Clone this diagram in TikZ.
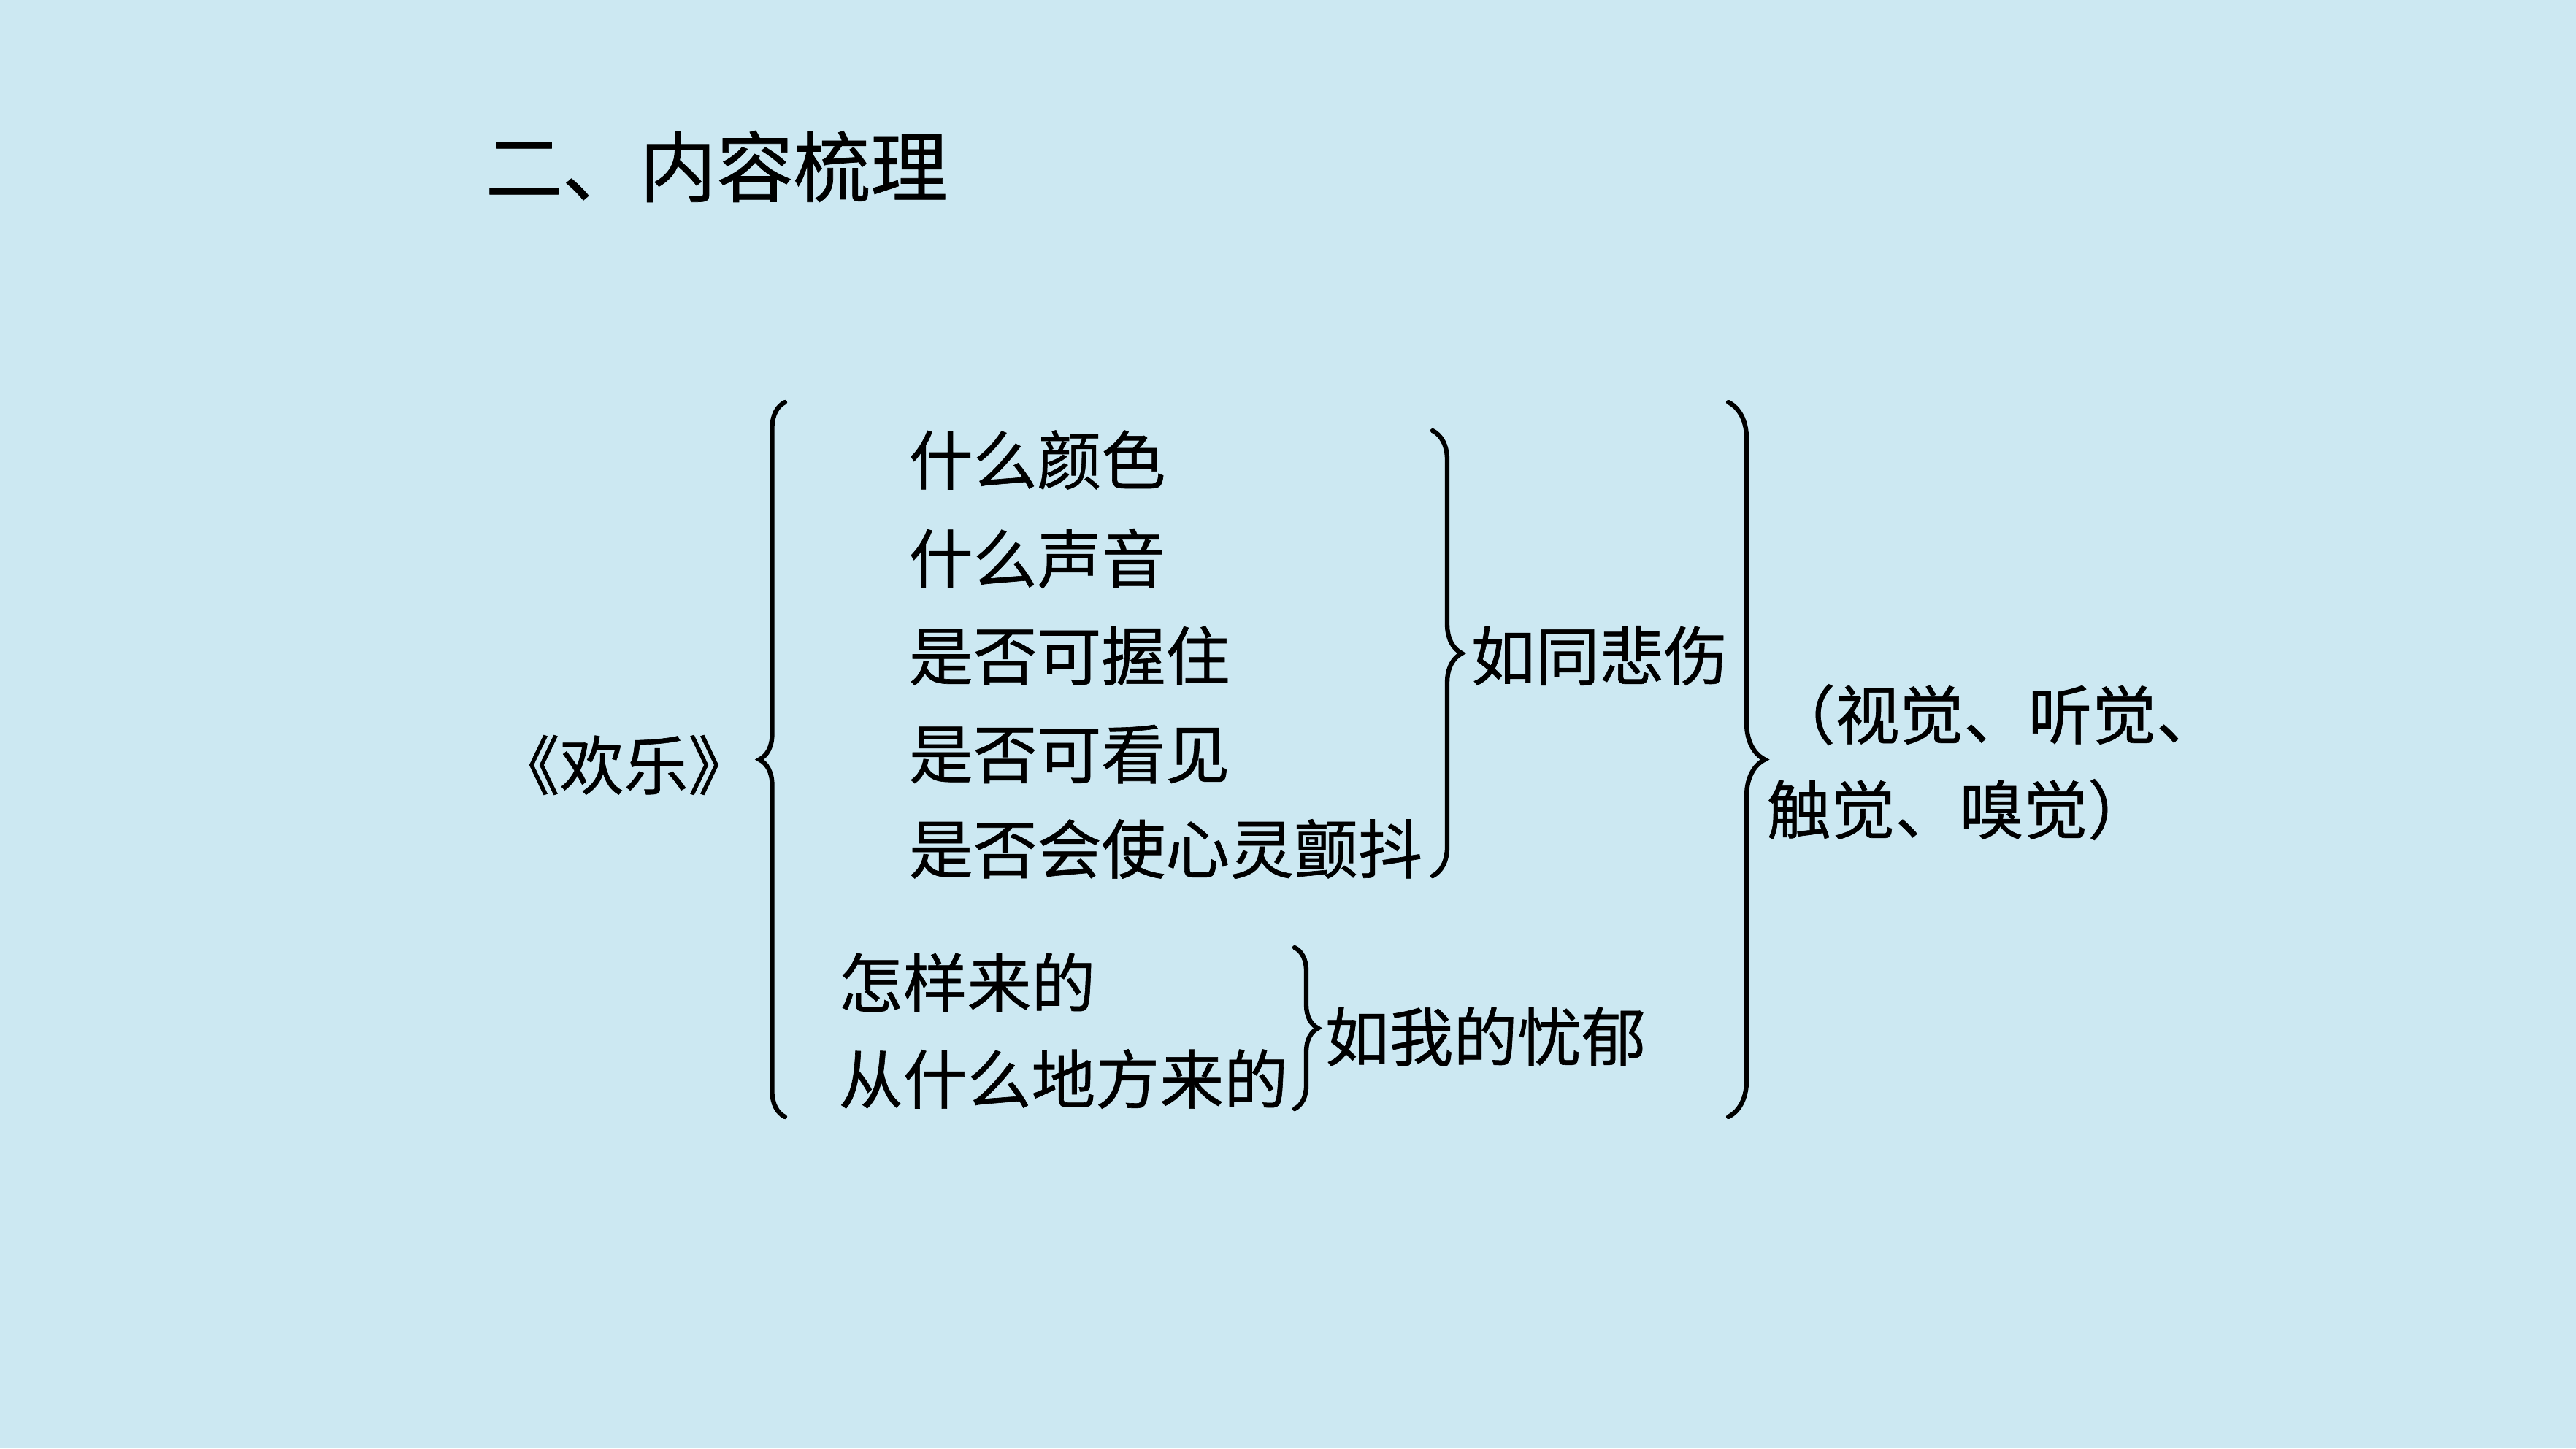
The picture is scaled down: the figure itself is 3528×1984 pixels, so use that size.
\documentclass[tikz,border=0pt]{standalone}
\usepackage{fontspec}
\setmainfont{Noto Sans CJK SC}[FakeBold=0.7]
\usetikzlibrary{decorations.pathreplacing}
\definecolor{bg}{RGB}{204,232,242}
\begin{document}
\begin{tikzpicture}[x=0.01cm,y=-0.01cm,
  txt/.style={anchor=west,inner sep=0pt,font=\fontsize{25pt}{30pt}\selectfont},
  ttl/.style={anchor=west,inner sep=0pt,font=\fontsize{30pt}{36pt}\selectfont},
  brc/.style={decorate,decoration={brace,amplitude=#1},line width=1.8pt,line cap=round}]
\fill[bg] (0,0) rectangle (3528,1984);
\useasboundingbox (0,0) rectangle (3528,1984);
\node[ttl] (title) at (664,228) {二、内容梳理};
\node[txt] (hl) at (678,1048) {《欢乐》};
\node[txt] (a1) at (1244,630) {什么颜色};
\node[txt] (a2) at (1244,765) {什么声音};
\node[txt] (a3) at (1244,898) {是否可握住};
\node[txt] (a4) at (1244,1033) {是否可看见};
\node[txt] (a5) at (1244,1163) {是否会使心灵颤抖};
\node[txt] (b1) at (1148,1346) {怎样来的};
\node[txt] (b2) at (1148,1478) {从什么地方来的};
\node[txt] (c1) at (2014,898) {如同悲伤};
\node[txt] (c2) at (1814,1420) {如我的忧郁};
\node[txt] (d1) at (2425,979) {（视觉、听觉、};
\node[txt] (d2) at (2419,1109) {触觉、嗅觉）};
\coordinate (Lb) at (1075,1530); \coordinate (Lt) at (1075,551);
\coordinate (Pt) at (1962,590); \coordinate (Pb) at (1962,1200);
\coordinate (Qt) at (1773,1298); \coordinate (Qb) at (1773,1519);
\coordinate (Rt) at (2367,551); \coordinate (Rb) at (2367,1530);
\draw[brc=0.35cm] (Lb) -- (Lt);
\draw[brc=0.4cm] (Pt) -- (Pb);
\draw[brc=0.32cm] (Qt) -- (Qb);
\draw[brc=0.5cm] (Rt) -- (Rb);
\end{tikzpicture}
\end{document}
